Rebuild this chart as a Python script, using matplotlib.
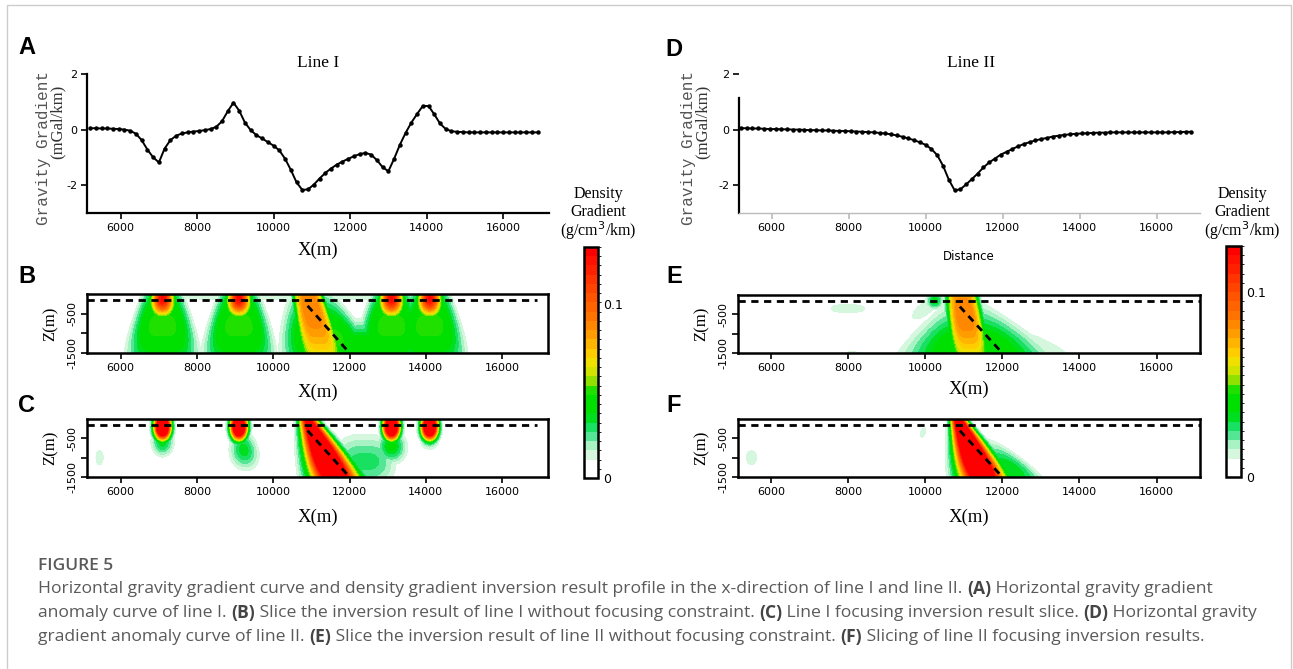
import numpy as np
import matplotlib
matplotlib.use('Agg')
import matplotlib.pyplot as plt
from matplotlib.colors import ListedColormap, BoundaryNorm
from matplotlib.patches import Rectangle
import matplotlib.colorbar as mcolorbar

plt.rcParams['axes.unicode_minus'] = False

# ---- profile data ----
line1_x = list(range(5200, 16901, 150))
line1_g = [0.05, 0.05, 0.04, 0.04, 0.03, 0.02, 0.0, -0.04, -0.15, -0.38,
           -0.72, -1.0, -1.18, -0.68, -0.38, -0.22, -0.14, -0.1, -0.07, -0.05,
           -0.02, 0.02, 0.1, 0.3, 0.66, 0.97, 0.68, 0.25, -0.02, -0.2,
           -0.32, -0.45, -0.58, -0.75, -1.05, -1.45, -1.9, -2.17, -2.15, -1.98,
           -1.76, -1.56, -1.4, -1.26, -1.15, -1.05, -0.96, -0.88, -0.84, -0.9,
           -1.1, -1.35, -1.5, -1.05, -0.55, -0.12, 0.25, 0.56, 0.85, 0.85,
           0.55, 0.22, 0.02, -0.06, -0.08, -0.09, -0.1, -0.1, -0.1, -0.1,
           -0.1, -0.1, -0.1, -0.1, -0.1, -0.1, -0.1, -0.1, -0.1]

line2_x = list(range(5200, 16901, 150))
line2_g = [0.05, 0.05, 0.04, 0.04, 0.03, 0.02, 0.02, 0.01, 0.01, 0.0,
           0.0, -0.01, -0.02, -0.02, -0.03, -0.03, -0.04, -0.05, -0.05, -0.06,
           -0.07, -0.08, -0.09, -0.1, -0.12, -0.14, -0.17, -0.21, -0.26, -0.32,
           -0.38, -0.46, -0.55, -0.7, -0.92, -1.3, -1.8, -2.18, -2.15, -1.97,
           -1.78, -1.58, -1.36, -1.18, -1.04, -0.9, -0.8, -0.7, -0.6, -0.52,
           -0.45, -0.39, -0.34, -0.3, -0.25, -0.22, -0.19, -0.17, -0.15, -0.14,
           -0.13, -0.12, -0.11, -0.11, -0.1, -0.1, -0.1, -0.1, -0.1, -0.1,
           -0.1, -0.1, -0.1, -0.1, -0.1, -0.09, -0.09, -0.08, -0.08]

# ---- inversion slices: anomalous bodies read off the sections ----
# columns: x at top, drift per km depth, width top, width bottom, z centre, z spread, amplitude, shape power
bodies_B = [
    [7100, 0, 200, 350, -100, 340, 0.13, 2], [7100, 0, 450, 800, -800, 900, 0.05, 4],
    [9100, 0, 200, 350, -100, 340, 0.13, 2], [9100, 0, 450, 800, -800, 900, 0.05, 4],
    [13100, 0, 200, 350, -100, 340, 0.13, 2], [13100, 0, 450, 800, -800, 900, 0.05, 4],
    [14100, 0, 200, 350, -100, 340, 0.13, 2], [14100, 0, 450, 800, -800, 900, 0.05, 4],
    [10900, 250, 320, 480, -400, 1400, 0.09, 4], [11000, 300, 550, 1000, -1100, 800, 0.05, 4],
    [12300, 0, 300, 700, -1300, 400, 0.045, 3], [10500, 0, 4800, 4800, 0, 220, 0.013, 4],
]
bodies_C = [
    [7100, 0, 140, 140, -200, 220, 0.22, 2], [7100, 0, 200, 200, -600, 250, 0.035, 2],
    [9100, 0, 140, 140, -200, 220, 0.22, 2], [9150, 100, 200, 300, -800, 350, 0.035, 2],
    [13100, 0, 140, 140, -200, 220, 0.22, 2], [13100, 0, 220, 300, -700, 300, 0.04, 2],
    [14100, 0, 140, 140, -200, 220, 0.22, 2], [14100, 0, 180, 180, -500, 200, 0.03, 2],
    [10900, 480, 160, 420, -900, 1000, 0.2, 2], [12400, 0, 650, 650, -1100, 500, 0.029, 3],
    [5450, 0, 150, 150, -1000, 300, 0.013, 2], [10200, 0, 60, 60, -200, 80, 0.012, 2],
]
bodies_E = [
    [10950, 150, 340, 420, -500, 1200, 0.085, 4], [11000, 200, 450, 1400, -1400, 750, 0.045, 3],
    [11300, 300, 600, 1800, -1500, 600, 0.018, 3], [8000, 0, 550, 550, -350, 160, 0.012, 4],
    [8100, 0, 300, 300, -1550, 150, 0.012, 2], [10250, 0, 150, 150, -150, 150, 0.035, 2],
    [10300, -860, 250, 250, -350, 300, 0.015, 2],
]
bodies_F = [
    [10850, 430, 130, 400, -800, 1000, 0.2, 2], [11050, 800, 250, 600, -1300, 500, 0.035, 3],
    [5500, 0, 220, 220, -1000, 300, 0.012, 2], [10050, -300, 100, 100, -350, 200, 0.012, 2],
]

band_colors = ['#ffffff', '#ffffff', '#d5f7dd', '#a8f2c4', '#55e695', '#18e060',
               '#00de20', '#00e000', '#00e000', '#20e000', '#90e000', '#d0e400',
               '#f0e000', '#ffcc00', '#ffb400', '#ff9c00', '#ff8800', '#ff7400',
               '#ff6400', '#ff5400', '#ff4400', '#ff3400', '#ff2000', '#ff1000',
               '#ff0000']
cmap = ListedColormap(band_colors)

W, H = 1293, 669


def rect(x0, y0, x1, y1):
    return [x0 / W, 1 - y1 / H, (x1 - x0) / W, (y1 - y0) / H]


def fx(px):
    return px / W


def fy(py):
    return 1 - py / H


def field(bodies, X, Z):
    # strongest body wins at each cell
    out = np.zeros_like(X)
    for xt, drift, sx0, sx1, zc, sz, amp, p in bodies:
        d = -Z / 1500.0
        xc = xt + drift * (-Z) / 1000.0
        sx = sx0 + (sx1 - sx0) * d
        v = amp * np.exp(-0.5 * np.abs((X - xc) / sx) ** p) * np.exp(-0.5 * ((Z - zc) / sz) ** 2)
        out = np.maximum(out, v)
    return out


fig = plt.figure(figsize=(W / 100, H / 100), dpi=100)
fig.patches.append(Rectangle((fx(7), -0.05), fx(1291 - 7), 1.05 - 5 / H, transform=fig.transFigure,
                             fill=False, ec='#cccccc', lw=1))


def profile(pos, xlim, xs, gs, title, title_x, ylab_x, faint):
    ax = fig.add_axes(rect(*pos))
    ax.plot(xs, gs, color='black', lw=1.4, marker='o', ms=2.2)
    ax.set_xlim(*xlim)
    ax.set_ylim(-3, 2)
    ax.set_xticks([6000, 8000, 10000, 12000, 14000, 16000])
    ax.set_yticks([-2, 0, 2])
    ax.set_yticklabels(['-2', '0', '2'])
    for s in ['top', 'right']:
        ax.spines[s].set_visible(False)
    ax.spines['left'].set_linewidth(1.6)
    if faint:
        ax.spines['left'].set_bounds(-3, 1.15)
        ax.spines['bottom'].set_color('#bbbbbb')
        ax.spines['bottom'].set_linewidth(1.0)
        ax.tick_params(axis='x', color='#bbbbbb')
    else:
        ax.spines['bottom'].set_linewidth(1.6)
    ax.tick_params(direction='out', length=4, width=1.2, labelsize=8, pad=3)
    ax.patch.set_alpha(0)
    fig.text(fx(title_x), fy(63), title, family='Liberation Serif', size=12.5, ha='center', va='center')
    fig.text(fx(ylab_x), fy(148), 'Gravity Gradient', family='Liberation Mono', size=11.5,
             color='#555555', rotation=90, ha='center', va='center')
    fig.text(fx(ylab_x + 14), fy(122), '(mGal/km)', family='Liberation Serif', size=12,
             color='#333333', rotation=90, ha='center', va='center')
    return ax


def section(pos, xlim, bodies, vmax, xlab_y, dash_end):
    ax = fig.add_axes(rect(*pos))
    xg = np.linspace(xlim[0], xlim[1], 500)
    zg = np.linspace(-1500, 0, 160)
    X, Z = np.meshgrid(xg, zg)
    V = np.clip(field(bodies, X, Z), 0, vmax * 0.999)
    levels = np.linspace(0, vmax, len(band_colors) + 1)
    ax.contourf(X, Z, V, levels=levels, cmap=cmap)
    ax.plot([xlim[0], dash_end], [-150, -150], color='black', lw=2, dashes=(2.6, 2.0))
    ax.plot([10900, 12000], [-300, -1500], color='black', lw=2, dashes=(2.6, 2.0))
    ax.set_xlim(*xlim)
    ax.set_ylim(-1500, 0)
    ax.set_xticks([6000, 8000, 10000, 12000, 14000, 16000])
    ax.set_yticks([-1500, -1000, -500])
    ax.set_yticklabels(['-1500', '', '-500'], rotation=90, va='center')
    for s in ax.spines.values():
        s.set_linewidth(1.8)
    ax.tick_params(direction='out', length=4, width=1.2, labelsize=8, pad=3)
    fig.text(fx(pos[0] - 36), fy((pos[1] + pos[3]) / 2), 'Z(m)', family='Liberation Serif', size=12,
             rotation=90, ha='center', va='center')
    fig.text(fx((pos[0] + pos[2]) / 2), fy(xlab_y), 'X(m)', family='Liberation Serif', size=13.5,
             ha='center', va='center')
    return ax


def cbar(pos, vmax, label_x):
    cax = fig.add_axes(rect(*pos))
    levels = np.linspace(0, vmax, len(band_colors) + 1)
    norm = BoundaryNorm(levels, cmap.N)
    cb = mcolorbar.ColorbarBase(cax, cmap=cmap, norm=norm, orientation='vertical',
                                boundaries=levels, ticks=[0, 0.1])
    cb.set_ticklabels(['0', '0.1'])
    cb.outline.set_linewidth(1.8)
    cax.tick_params(length=0, labelsize=9, pad=4)
    for i, t in enumerate(['Density', 'Gradient', '(g/cm$^3$/km)']):
        fig.text(fx(label_x), fy(194 + 18.5 * i), t, family='Liberation Serif', size=11.5,
                 ha='center', va='center')


# left column: line I
profile((87, 74, 549, 213), (5120, 17200), line1_x, line1_g, 'Line I', 318, 44, False)
fig.text(fx(318), fy(250), 'X(m)', family='Liberation Serif', size=13.5, ha='center', va='center')
section((87, 294, 548, 353), (5120, 17200), bodies_B, 0.133, 392, 16900)
section((87, 419, 548, 477), (5120, 17200), bodies_C, 0.133, 517, 16900)
cbar((584, 247, 598, 478), 0.133, 598)

# right column: line II
profile((739, 74, 1200, 213), (5150, 17125), line2_x, line2_g, 'Line II', 971, 689, True)
fig.text(fx(969), fy(256), 'Distance', family='DejaVu Sans', size=8.5, ha='center', va='center')
section((738, 295, 1200, 353), (5150, 17125), bodies_E, 0.125, 389, 17125)
section((738, 419, 1200, 477), (5150, 17125), bodies_F, 0.125, 517, 17125)
cbar((1226, 246, 1241, 477), 0.125, 1242)

# panel letters
for letter, x, y in [('A', 18, 48), ('B', 18, 276), ('C', 18, 405),
                     ('D', 665, 50), ('E', 666, 276), ('F', 666, 405)]:
    fig.text(fx(x), fy(y), letter, family='Liberation Sans', weight='bold', size=17,
             ha='left', va='center')

# caption
cap_color = '#5a5a5a'
fig.text(fx(38), fy(566), 'FIGURE 5', family='Open Sans', weight='semibold', size=12.5,
         color=cap_color, va='center')

caption_lines = [
    [('Horizontal gravity gradient curve and density gradient inversion result profile in the x-direction of line I and line II. ', False),
     ('(A)', True), (' Horizontal gravity gradient', False)],
    [('anomaly curve of line I. ', False), ('(B)', True),
     (' Slice the inversion result of line I without focusing constraint. ', False), ('(C)', True),
     (' Line I focusing inversion result slice. ', False), ('(D)', True), (' Horizontal gravity', False)],
    [('gradient anomaly curve of line II. ', False), ('(E)', True),
     (' Slice the inversion result of line II without focusing constraint. ', False), ('(F)', True),
     (' Slicing of line II focusing inversion results.', False)],
]
renderer = fig.canvas.get_renderer()
for i, parts in enumerate(caption_lines):
    x = 38
    y = 589 + 24 * i
    for txt, bold in parts:
        t = fig.text(fx(x), fy(y), txt, family='Open Sans', size=12.6,
                     weight='bold' if bold else 'normal',
                     color='#444444' if bold else cap_color, va='center')
        bb = t.get_window_extent(renderer)
        x += bb.width

fig.savefig('out.png', dpi=100)
